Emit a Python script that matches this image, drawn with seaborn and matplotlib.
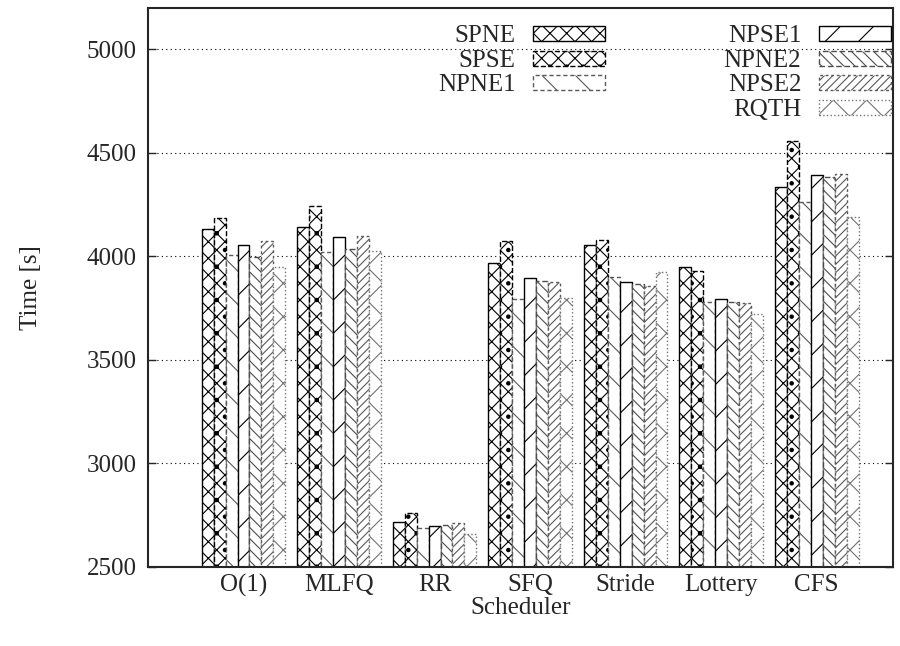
import pandas as pd
import matplotlib
matplotlib.use('Agg')
from matplotlib import pyplot as plt
from matplotlib.patches import Patch
import seaborn as sns

# Veriler
schedulers = ['O(1)', 'MLFQ', 'RR', 'SFQ', 'Stride', 'Lottery', 'CFS']
methods = ['SPNE', 'SPSE', 'NPNE1', 'NPSE1', 'NPNE2', 'NPSE2', 'RQTH']

o1 = [4130, 4183, 4006, 4053, 3995, 4073, 3948]
mlfq = [4140, 4242, 4019, 4091, 4035, 4099, 4025]
rr = [2715, 2760, 2690, 2700, 2705, 2710, 2660]
sfq = [3966, 4075, 3795, 3894, 3880, 3877, 3798]
stride = [4053, 4077, 3898, 3874, 3864, 3857, 3925]
lottery = [3948, 3930, 3779, 3793, 3779, 3774, 3720]
cfs = [4333, 4556, 4262, 4391, 4384, 4397, 4188]

rows = []
for name, vals in zip(schedulers, [o1, mlfq, rr, sfq, stride, lottery, cfs]):
    for m, v in zip(methods, vals):
        rows.append({'Scheduler': name, 'Method': m, 'Time': v})
df = pd.DataFrame(rows)

hatches = ['xx', 'xx.', '\\', '/', '\\\\\\', '////', 'x']
edge_styles = ['-', '--', (0, (3, 2)), '-', (0, (4, 2)), (0, (2, 2)), ':']
hatch_colors = ['black', 'black', '0.35', 'black', '0.3', '0.35', '0.45']

sns.set_style('ticks')
plt.rcParams['font.family'] = ['Liberation Serif', 'DejaVu Serif']
plt.rcParams['hatch.linewidth'] = 0.8

fs = 18
fig = plt.figure(figsize=(9, 6.46), dpi=100)
ax = fig.add_axes([0.1644, 0.1223, 0.828, 0.8658])

ax.yaxis.grid(True, linestyle=(0, (1, 3)), color='black', linewidth=0.8)
ax.set_axisbelow(True)

sns.barplot(data=df, x='Scheduler', y='Time', hue='Method', order=schedulers,
            hue_order=methods, width=0.875, gap=0,
            palette=['white'] * 7, edgecolor='black', linewidth=1.0,
            errorbar=None, legend=False, ax=ax)

for cont, h, ls, hc in zip(ax.containers, hatches, edge_styles, hatch_colors):
    for bar in cont:
        bar.set_hatch(h)
        bar.set_linestyle(ls)
        bar.set_edgecolor(hc)

# legend: etiket solda, ornek sagda (gnuplot tarzi)
handles = []
for m, h, ls, hc in zip(methods, hatches, edge_styles, hatch_colors):
    handles.append(Patch(facecolor='white', edgecolor=hc, hatch=h, linestyle=ls, linewidth=1.0, label=m))
handles.insert(3, Patch(facecolor='none', edgecolor='none', label=''))
ax.legend(handles=handles, ncol=2, markerfirst=False, frameon=False,
          loc='upper right', bbox_to_anchor=(1.017, 0.995), fontsize=fs,
          handlelength=2.88, handleheight=0.55, labelspacing=0.1,
          columnspacing=4.75, handletextpad=0.7, borderaxespad=0.2)

ax.set_xlim(-1.0, 6.8)
ax.set_ylim(2500, 5200)
ax.set_yticks([2500, 3000, 3500, 4000, 4500, 5000])
ax.tick_params(axis='y', direction='in', length=6, right=True, labelsize=fs, width=1.0, pad=8)
ax.tick_params(axis='x', length=0, labelsize=fs, pad=5)
ax.set_xlabel('Scheduler', fontsize=fs, labelpad=0)
ax.set_ylabel('Time [s]', fontsize=fs, labelpad=32)
for s in ax.spines.values():
    s.set_linewidth(1.5)
    s.set_visible(True)

plt.savefig('out.png', dpi=100)
